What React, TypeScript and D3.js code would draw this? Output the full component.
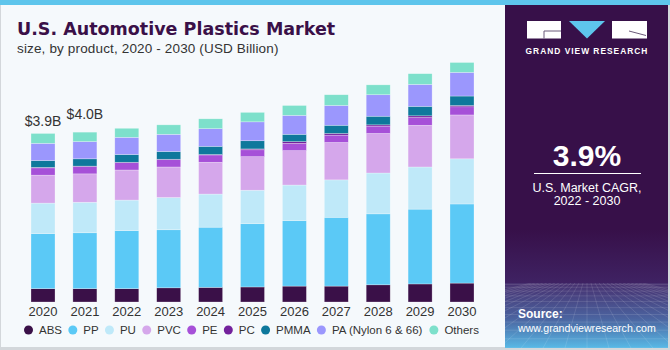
import { useMemo } from "react";
import * as d3 from "d3";

// ── Data (USD Billion) ────────────────────────────────────────
const YEARS = ["2020", "2021", "2022", "2023", "2024", "2025", "2026", "2027", "2028", "2029", "2030"];
const PRODUCTS = ["ABS", "PP", "PU", "PVC", "PE", "PC", "PMMA", "PA (Nylon 6 & 66)", "Others"];
const ABS    = [0.31, 0.31, 0.31, 0.33, 0.34, 0.35, 0.37, 0.37, 0.40, 0.42, 0.44];
const PP     = [1.28, 1.30, 1.35, 1.35, 1.40, 1.47, 1.52, 1.60, 1.65, 1.74, 1.84];
const PU     = [0.71, 0.71, 0.71, 0.75, 0.77, 0.78, 0.83, 0.87, 0.95, 0.98, 1.05];
const PVC    = [0.65, 0.66, 0.70, 0.71, 0.74, 0.78, 0.80, 0.87, 0.92, 0.97, 1.02];
const PE     = [0.17, 0.17, 0.17, 0.17, 0.17, 0.16, 0.17, 0.17, 0.17, 0.18, 0.19];
const PC     = [0.01, 0.01, 0.01, 0.01, 0.01, 0.02, 0.04, 0.04, 0.03, 0.04, 0.03];
const PMMA   = [0.16, 0.17, 0.18, 0.18, 0.19, 0.19, 0.17, 0.19, 0.20, 0.22, 0.22];
const PA     = [0.40, 0.40, 0.40, 0.40, 0.41, 0.44, 0.44, 0.46, 0.50, 0.51, 0.55];
const OTHERS = [0.23, 0.22, 0.21, 0.22, 0.23, 0.22, 0.23, 0.25, 0.23, 0.25, 0.23];
const SERIES = [ABS, PP, PU, PVC, PE, PC, PMMA, PA, OTHERS];
const COLORS = ["#3a1048", "#5bc9f6", "#bfe9f9", "#d5a7eb", "#a650d8", "#73219c", "#0e789c", "#9b97fd", "#7de0cb"];

// labels on top of the first two bars
const TOTAL_LABELS = ["$3.9B", "$4.0B"];
const TOTAL_LIFT = [7, 13];

const W = 670, H = 350;
const FONT = "'Liberation Sans', Arial, sans-serif";
const PANEL_X = 505;
const LEGEND_SIZE = 11.5;

function measure(text: string, size: number) {
  const ctx = document.createElement("canvas").getContext("2d");
  if (!ctx) return text.length * size * 0.55;
  ctx.font = `${size}px 'Liberation Sans', Arial, sans-serif`;
  return ctx.measureText(text).width;
}

export default function App() {
  const rows = useMemo(
    () => YEARS.map((year, i) => {
      const r: Record<string, number | string> = { year };
      PRODUCTS.forEach((p, k) => (r[p] = SERIES[k][i]));
      return r;
    }),
    []
  );
  const stacked = useMemo(
    () => d3.stack<Record<string, number | string>>().keys(PRODUCTS)
      .value((d, key) => d[key] as number)(rows),
    [rows]
  );

  const x = d3.scaleBand<string>().domain(YEARS).range([31, 474]).paddingInner(0.427).paddingOuter(0);
  const y = d3.scaleLinear().domain([0, 5]).range([302, 87]);

  // legend layout from measured label widths
  const legend = useMemo(() => {
    let cx = 28.5;
    return PRODUCTS.map((p, k) => {
      const item = { p, cx, color: COLORS[k] };
      cx += 10.5 + measure(p, LEGEND_SIZE) + 10.8;
      return item;
    });
  }, []);

  // perspective grid for the panel footer
  const gridTop = 283, gridBot = 348;
  const hLines = d3.range(1, 12).map((i) => gridTop + (gridBot - gridTop) * Math.pow(i / 11, 1.6));
  const vLines = d3.range(-14, 15);

  return (
    <div style={{ position: "absolute", left: 0, top: 0 }}>
      <svg width={W} height={H} style={{ display: "block", fontFamily: FONT }}>
        <defs>
          <linearGradient id="foot" x1="0" y1="0" x2="0" y2="1">
            <stop offset="0%" stopColor="#47306f" />
            <stop offset="55%" stopColor="#4b64a0" />
            <stop offset="100%" stopColor="#58b9e6" />
          </linearGradient>
          <linearGradient id="haze" x1="0" y1="0" x2="0" y2="1">
            <stop offset="0%" stopColor="#371049" />
            <stop offset="100%" stopColor="#3f2263" />
          </linearGradient>
          <clipPath id="footClip">
            <rect x={PANEL_X} y={gridTop} width={668 - PANEL_X} height={gridBot - gridTop} />
          </clipPath>
        </defs>

        {/* background + frame */}
        <rect x={0} y={0} width={W} height={H} fill="#d3d7db" />
        <rect x={1} y={0} width={W - 3} height={H - 3} fill="#f5f9fc" />
        <rect x={0} y={0} width={W} height={5} fill="#5ec5ec" />

        {/* right panel */}
        <rect x={PANEL_X} y={5} width={668 - PANEL_X} height={gridBot - 5} fill="#371049" />
        <rect x={PANEL_X} y={230} width={668 - PANEL_X} height={gridTop - 230} fill="url(#haze)" />
        <rect x={PANEL_X} y={gridTop} width={668 - PANEL_X} height={gridBot - gridTop} fill="url(#foot)" />
        <g clipPath="url(#footClip)" stroke="#ffffff" strokeOpacity={0.2} strokeWidth={0.6}>
          {hLines.map((yy, i) => (
            <line key={`h${i}`} x1={PANEL_X} x2={668} y1={yy} y2={yy} />
          ))}
          {vLines.map((i) => (
            <line key={`v${i}`} x1={587 + i * 4} y1={gridTop} x2={587 + i * 22} y2={gridBot} />
          ))}
        </g>

        {/* logo */}
        <rect x={527} y={21} width={34} height={17.5} fill="#ffffff" />
        <path d="M544,38.5 V31 H561" fill="none" stroke="#6b5a7a" strokeWidth={1} />
        <path d="M569,21 H605 L587,38.5 Z" fill="#5ec5ec" />
        <rect x={612} y={21} width={35} height={17.5} fill="#ffffff" />
        <path d="M629,31 L646,35.5" fill="none" stroke="#6b5a7a" strokeWidth={1} />
        <text x={587} y={53.5} textAnchor="middle" fill="#ffffff" fontSize={8.4} fontWeight="bold" letterSpacing={1}>
          GRAND VIEW RESEARCH
        </text>

        <text x={587} y={166} textAnchor="middle" fill="#ffffff" fontSize={30} fontWeight="bold">3.9%</text>
        <line x1={534} x2={641} y1={173.5} y2={173.5} stroke="#ffffff" strokeWidth={1} />
        <text x={587} y={192} textAnchor="middle" fill="#ffffff" fontSize={12.5}>U.S. Market CAGR,</text>
        <text x={587} y={205} textAnchor="middle" fill="#ffffff" fontSize={12.5}>2022 - 2030</text>

        <text x={518} y={318} fill="#ffffff" fontSize={12} fontWeight="bold">Source:</text>
        <text x={518} y={332} fill="#ffffff" fontSize={10.6}>www.grandviewresearch.com</text>

        {/* titles */}
        <text x={17} y={35} fill="#3a1048" fontSize={17.5} fontWeight="bold"
          fontFamily="'DejaVu Sans', sans-serif">U.S. Automotive Plastics Market</text>
        <text x={17} y={53} fill="#333333" fontSize={13.5} letterSpacing={0.15}>
          size, by product, 2020 - 2030 (USD Billion)
        </text>

        {/* stacked bars */}
        {stacked.map((layer, k) => (
          <g key={layer.key} fill={COLORS[k]}>
            {layer.map((seg, i) => (
              <rect
                key={YEARS[i]}
                x={x(YEARS[i])}
                y={y(seg[1])}
                width={x.bandwidth()}
                height={Math.max(0, y(seg[0]) - y(seg[1]))}
                stroke="#ffffff"
                strokeOpacity={0.45}
                strokeWidth={0.6}
              />
            ))}
          </g>
        ))}

        {/* totals */}
        {TOTAL_LABELS.map((t, i) => {
          const top = stacked[stacked.length - 1][i][1];
          return (
            <text key={t} x={(x(YEARS[i]) ?? 0) + x.bandwidth() / 2} y={y(top) - TOTAL_LIFT[i]}
              textAnchor="middle" fill="#333333" fontSize={14}>{t}</text>
          );
        })}

        {/* x axis labels */}
        {YEARS.map((yr) => (
          <text key={yr} x={(x(yr) ?? 0) + x.bandwidth() / 2} y={316} textAnchor="middle"
            fill="#333333" fontSize={13}>{yr}</text>
        ))}

        {/* legend */}
        {legend.map((l) => (
          <g key={l.p}>
            <circle cx={l.cx} cy={330} r={4.5} fill={l.color} />
            <text x={l.cx + 10.5} y={334.2} fill="#333333" fontSize={LEGEND_SIZE}>{l.p}</text>
          </g>
        ))}
      </svg>
    </div>
  );
}
